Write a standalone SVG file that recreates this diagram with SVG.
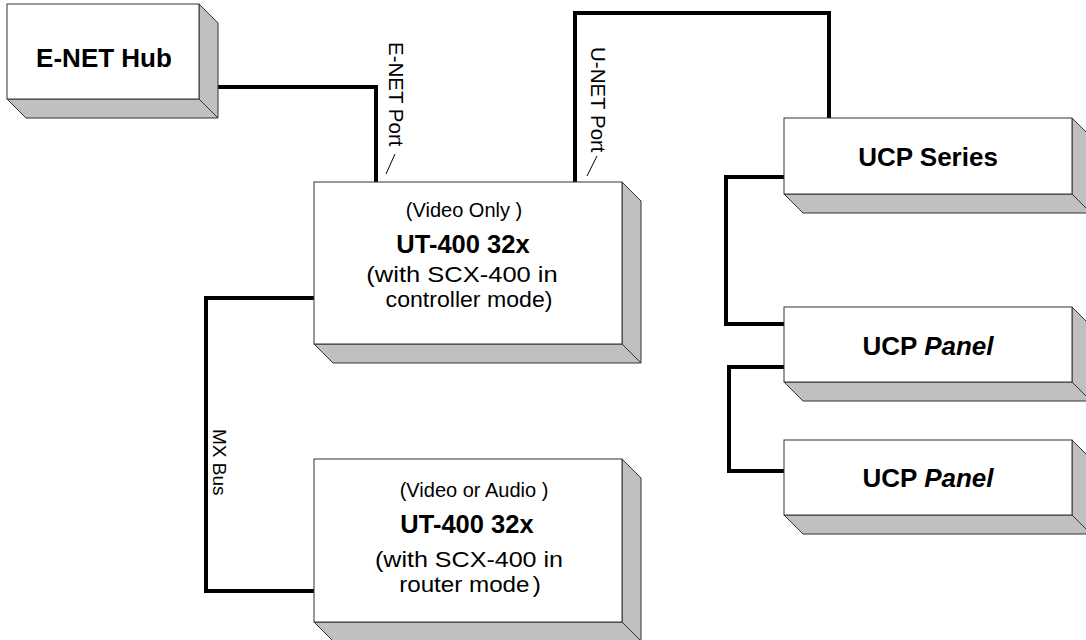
<svg xmlns="http://www.w3.org/2000/svg" width="1086" height="640" viewBox="0 0 1086 640">
<style>
.face{fill:#ffffff;stroke:#333333;stroke-width:1}
.side{fill:#c0c0c0;stroke:#333333;stroke-width:1;stroke-linejoin:miter}
.wire{fill:none;stroke:#000000;stroke-width:4;stroke-linejoin:miter}
.tick{fill:none;stroke:#000000;stroke-width:1}
text{font-family:"Liberation Sans",Arial,sans-serif;fill:#000000}
.big{font-size:26px;font-weight:bold;text-anchor:middle}
.mid{font-size:25.5px;font-weight:bold;text-anchor:middle}
.reg{font-size:22px;text-anchor:middle}
.sm{font-size:20px;text-anchor:middle}
.lab{font-size:20.5px}
.lab2{font-size:19px}
</style>
<rect width="1086" height="640" fill="#ffffff"/>
<g id="connectors">
<path class="wire" d="M218,87 H376 V182"/>
<path class="wire" d="M575,182 V13 H829 V118"/>
<path class="wire" d="M784,177 H726 V324 H784"/>
<path class="wire" d="M784,367 H729 V471 H784"/>
<path class="wire" d="M314,298 H206 V591 H314"/>
<line class="tick" x1="395" y1="154" x2="386" y2="174"/>
<line class="tick" x1="597" y1="156" x2="587" y2="176"/>
<text class="lab" transform="translate(389,42) rotate(90)">E-NET Port</text>
<text class="lab" transform="translate(591,47) rotate(90)">U-NET Port</text>
<text class="lab2" transform="translate(213,429) rotate(90)">MX Bus</text>
</g>
<g id="enet-hub">
<polygon class="side" points="199,4 218,23 218,118 199,99"/>
<polygon class="side" points="7,99 199,99 218,118 26,118"/>
<rect class="face" x="7" y="4" width="192" height="95"/>
<text class="big" x="104" y="67">E-NET Hub</text>
</g>
<g id="ut400-controller">
<polygon class="side" points="622,182 641,201 641,363 622,344"/>
<polygon class="side" points="314,344 622,344 641,363 333,363"/>
<rect class="face" x="314" y="182" width="308" height="162"/>
<text class="sm" x="464" y="217">(Video Only )</text>
<text class="mid" x="463" y="253">UT-400 32x</text>
<text class="reg" transform="translate(462,282) scale(1.16,1)">(with SCX-400 in</text>
<text class="reg" transform="translate(469,307) scale(1.05,1)">controller mode)</text>
</g>
<g id="ut400-router">
<polygon class="side" points="622,459 641,478 641,641 622,622"/>
<polygon class="side" points="314,622 622,622 641,641 333,641"/>
<rect class="face" x="314" y="459" width="308" height="163"/>
<text class="sm" x="474" y="497">(Video or Audio )</text>
<text class="mid" x="467" y="533">UT-400 32x</text>
<text class="reg" transform="translate(469,567) scale(1.14,1)">(with SCX-400 in</text>
<text class="reg" transform="translate(470,592) scale(1.1,1)">router mode<tspan dx="3">)</tspan></text>
</g>
<g id="ucp-series">
<polygon class="side" points="1072,118 1091,137 1091,213 1072,194"/>
<polygon class="side" points="784,194 1072,194 1091,213 803,213"/>
<rect class="face" x="784" y="118" width="288" height="76"/>
<text class="big" x="928" y="166">UCP Series</text>
</g>
<g id="ucp-panel-1">
<polygon class="side" points="1072,307 1091,326 1091,401 1072,382"/>
<polygon class="side" points="784,382 1072,382 1091,401 803,401"/>
<rect class="face" x="784" y="307" width="288" height="75"/>
<text class="big" x="928" y="355">UCP <tspan font-style="italic">Panel</tspan></text>
</g>
<g id="ucp-panel-2">
<polygon class="side" points="1072,440 1091,459 1091,534 1072,515"/>
<polygon class="side" points="784,515 1072,515 1091,534 803,534"/>
<rect class="face" x="784" y="440" width="288" height="75"/>
<text class="big" x="928" y="487">UCP <tspan font-style="italic">Panel</tspan></text>
</g>
</svg>
